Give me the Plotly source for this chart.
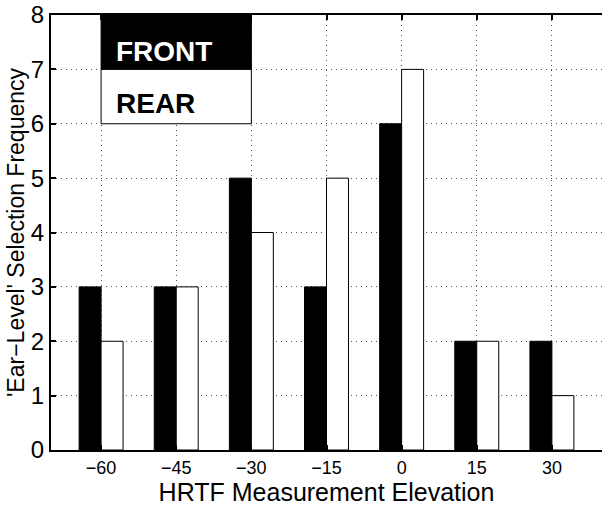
import plotly.graph_objects as go

elevations = [-60, -45, -30, -15, 0, 15, 30]
front = [3, 3, 5, 3, 6, 2, 2]
rear = [2, 3, 4, 5, 7, 2, 1]
y_ticks = [0, 1, 2, 3, 4, 5, 6, 7, 8]
legend_names = ["FRONT", "REAR"]

FONT = "Liberation Sans, Arial, Helvetica, sans-serif"

fig = go.Figure()
fig.add_trace(go.Bar(x=elevations, y=front, name=legend_names[0],
                     marker=dict(color="black", line=dict(color="black", width=1))))
fig.add_trace(go.Bar(x=elevations, y=rear, name=legend_names[1],
                     marker=dict(color="white", line=dict(color="black", width=1))))

# legend-like boxes inside the axes (top-left)
fig.add_shape(type="rect", xref="x", yref="y", x0=-60, x1=-30, y0=7, y1=8,
              fillcolor="black", line=dict(color="black", width=1), layer="above")
fig.add_shape(type="rect", xref="x", yref="y", x0=-60, x1=-30, y0=6, y1=7,
              fillcolor="white", line=dict(color="black", width=1), layer="above")
fig.add_annotation(x=-57.5, y=7.32, xref="x", yref="y", text="<b>" + legend_names[0] + "</b>",
                   showarrow=False, xanchor="left", yanchor="middle",
                   font=dict(family=FONT, size=28, color="white"))
fig.add_annotation(x=-57.5, y=6.38, xref="x", yref="y", text="<b>" + legend_names[1] + "</b>",
                   showarrow=False, xanchor="left", yanchor="middle",
                   font=dict(family=FONT, size=28, color="black"))

fig.update_layout(
    width=602, height=508,
    margin=dict(l=51, r=0, t=15, b=58),
    paper_bgcolor="white", plot_bgcolor="white",
    barmode="group", bargap=0.415, bargroupgap=0,
    showlegend=False,
    font=dict(family=FONT, color="black"),
)
fig.update_xaxes(
    range=[-70, 40], tickvals=elevations,
    ticktext=[str(v).replace("-", "\u2212") for v in elevations],
    tickfont=dict(size=18), ticks="inside", ticklen=5, tickwidth=2, tickcolor="black",
    showline=True, linewidth=2, linecolor="black", mirror="ticks",
    showgrid=True, gridcolor="#555555", griddash="1px,4px", gridwidth=1,
    zeroline=False,
    title=dict(text="HRTF Measurement Elevation", font=dict(size=25), standoff=0),
)
fig.update_yaxes(
    range=[0, 8], tickvals=y_ticks, tickfont=dict(size=24),
    ticks="inside", ticklen=5, tickwidth=2, tickcolor="black",
    showline=True, linewidth=2, linecolor="black",
    showgrid=True, gridcolor="#555555", griddash="1px,4px", gridwidth=1,
    zeroline=False,
    title=dict(text="'Ear\u2212Level' Selection Frequency", font=dict(size=23), standoff=0),
)

fig.write_html("out.html")
